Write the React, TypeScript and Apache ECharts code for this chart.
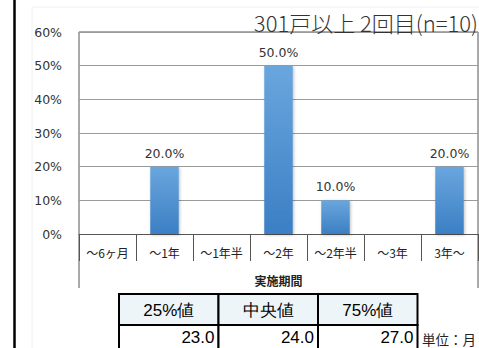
import React, { useEffect, useRef } from "react";
import * as echarts from "echarts";

const categories = ["～6ヶ月", "～1年", "～1年半", "～2年", "～2年半", "～3年", "3年～"];
const shares = [0, 20, 0, 50, 10, 0, 20];
const yTicks = [0, 10, 20, 30, 40, 50, 60];
const titleText = "301戸以上 2回目(n=10)";
const axisName = "実施期間";
const tableHeaders = ["25%値", "中央値", "75%値"];
const tableValues = [23.0, 24.0, 27.0];
const unitText = "単位：月";

const JP = "'Noto Sans CJK JP', 'Noto Sans', sans-serif";
const LAT = "'Liberation Sans', Arial, sans-serif";

export default function App() {
  const ref = useRef<HTMLDivElement>(null);
  useEffect(() => {
    if (!ref.current) return;
    const chart = echarts.init(ref.current, undefined, { renderer: "svg" });
    const gridL = 79, gridR = 478, gridT = 32, gridB = 234, extB = 288;
    const tblL = 119, colW = 99.5, tblT = 294, rowH = 31;
    const graphics: any[] = [
      { type: "line", shape: { x1: 14.5, y1: 0, x2: 14.5, y2: 348 }, style: { stroke: "#000", lineWidth: 2.5 } },
      { type: "rect", shape: { x: 32, y: 7, width: 460, height: 360 }, style: { fill: "none", stroke: "#f0f0f0", lineWidth: 1 }, z: -1 },
      { type: "line", shape: { x1: gridL, y1: gridT, x2: gridL, y2: extB }, style: { stroke: "#555", lineWidth: 1 } },
      { type: "line", shape: { x1: gridR, y1: gridT, x2: gridR, y2: extB }, style: { stroke: "#555", lineWidth: 1 } },
      { type: "line", shape: { x1: gridL, y1: gridT, x2: gridR, y2: gridT }, style: { stroke: "#555", lineWidth: 1 } },
    ];
    tableHeaders.forEach((h, i) => {
      const x = tblL + i * colW;
      graphics.push({ type: "rect", shape: { x, y: tblT, width: colW, height: rowH }, style: { fill: "#eef5f9", stroke: "#000", lineWidth: 2 } });
      graphics.push({ type: "rect", shape: { x, y: tblT + rowH, width: colW, height: rowH }, style: { fill: "#fff", stroke: "#000", lineWidth: 2 } });
      graphics.push({ type: "text", x: x + colW / 2, y: tblT + rowH / 2 + 1, style: { text: h, font: `17px ${LAT}`, fill: "#000", align: "center", verticalAlign: "middle" }, z: 10 });
      graphics.push({ type: "text", x: x + colW - 4, y: tblT + rowH + 12, style: { text: tableValues[i].toFixed(1), font: `17px ${LAT}`, fill: "#000", align: "right", verticalAlign: "middle" }, z: 10 });
    });
    graphics.push({ type: "text", x: 422, y: 339, style: { text: unitText, font: `13.5px ${JP}`, fill: "#222", align: "left", verticalAlign: "middle" } });

    chart.setOption({
      animation: false,
      backgroundColor: "#fff",
      title: {
        text: titleText,
        right: -4,
        top: 6,
        textStyle: { fontFamily: JP, fontSize: 22, fontWeight: 300, color: "#333" },
      },
      grid: { left: gridL, right: 479 - gridR, top: gridT, bottom: 348 - gridB },
      xAxis: {
        type: "category",
        data: categories,
        axisLine: { show: true, lineStyle: { color: "#555", width: 1 } },
        axisTick: { show: true, length: 27, alignWithLabel: false, lineStyle: { color: "#555" } },
        axisLabel: { fontFamily: JP, fontSize: 12, color: "#222", margin: 12, interval: 0 },
        name: axisName,
        nameLocation: "middle",
        nameGap: 40,
        nameTextStyle: { fontFamily: JP, fontSize: 12, fontWeight: "bold", color: "#222" },
      },
      yAxis: {
        type: "value",
        min: yTicks[0],
        max: yTicks[yTicks.length - 1],
        interval: 10,
        axisLine: { show: false },
        axisTick: { show: false },
        splitLine: { lineStyle: { color: "#9a9a9a", width: 1 } },
        axisLabel: { formatter: "{value}%", fontFamily: "'DejaVu Sans', sans-serif", fontSize: 12.5, color: "#333", margin: 17 },
      },
      series: [
        {
          type: "bar",
          data: shares,
          barWidth: "50%",
          itemStyle: {
            color: new echarts.graphic.LinearGradient(0, 0, 0, 1, [
              { offset: 0, color: "#6aa6de" },
              { offset: 1, color: "#3b7fc4" },
            ]),
            shadowColor: "rgba(0,0,0,0.25)",
            shadowBlur: 3,
            shadowOffsetX: 1,
            shadowOffsetY: 1,
          },
          label: {
            show: true,
            position: "top",
            distance: 7,
            formatter: (p: any) => (p.value > 0 ? p.value.toFixed(1) + "%" : ""),
            fontFamily: "'DejaVu Sans', sans-serif",
            fontSize: 12.5,
            color: "#333",
          },
        },
      ],
      graphic: graphics,
    });
    return () => chart.dispose();
  }, []);
  return <div ref={ref} style={{ position: "fixed", left: 0, top: 0, width: 479, height: 348 }} />;
}
